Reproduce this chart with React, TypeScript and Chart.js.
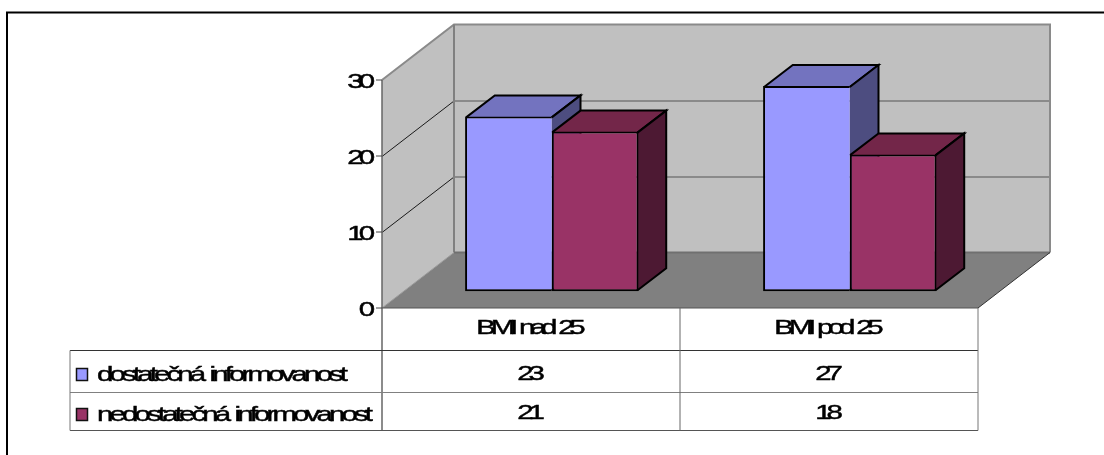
import React, { useEffect, useRef } from "react";
import { Chart, registerables } from "chart.js";

Chart.register(...registerables);

const categories = ["BMI nad 25", "BMI pod 25"];
const seriesNames = ["dostatečná informovanost", "nedostatečná informovanost"];
const sufficient = [23, 27];
const insufficient = [21, 18];
const seriesValues = [sufficient, insufficient];

const frontColors = ["#9999FF", "#993366"];
const topColors = ["#7373BF", "#732649"];
const sideColors = ["#4D4D80", "#4D1933"];

const WIDTH = 1104;
const HEIGHT = 455;

// Oblique projection of the plot box: the walls recede by this offset.
const WALL_DX = 72;
const WALL_DY = -55.5;
// Bars stand partway into the floor and have their own depth.
const BAR_SHIFT_X = 20.8;
const BAR_SHIFT_Y = -16.8;
const BAR_DX = 28.7;
const BAR_DY = -22;

// Data-table rows, in canvas pixels.
const TABLE_LEFT = 70;
const ROW_LINES = [350.5, 392.5, 430.5];
const HEADER_BASELINE = 334;
const VALUE_BASELINES = [379.5, 419];
const NAME_BASELINES = [381, 421];
const SWATCH_TOPS = [368.5, 408.5];

function label(
  ctx: CanvasRenderingContext2D,
  text: string,
  x: number,
  baseline: number,
  align: "left" | "center" | "right",
  spacing: number,
  wordGap = 0
) {
  const stretch = 1.4;
  ctx.save();
  ctx.font = '21px "Liberation Sans"';
  ctx.fillStyle = "#000";
  ctx.strokeStyle = "#000";
  ctx.lineWidth = 0.45;
  ctx.textAlign = "left";
  ctx.textBaseline = "alphabetic";
  (ctx as any).letterSpacing = spacing + "px";
  (ctx as any).wordSpacing = wordGap + "px";
  const w = (ctx.measureText(text).width - spacing) * stretch;
  const left = align === "left" ? x : align === "center" ? x - w / 2 : x - w;
  ctx.translate(left, baseline);
  ctx.scale(stretch, 1);
  ctx.fillText(text, 0, 0);
  ctx.strokeText(text, 0, 0);
  ctx.restore();
}

function poly(
  ctx: CanvasRenderingContext2D,
  pts: number[][],
  fill: string | null,
  stroke: string | null,
  lineWidth = 1
) {
  ctx.beginPath();
  pts.forEach(([x, y], i) => (i ? ctx.lineTo(x, y) : ctx.moveTo(x, y)));
  if (fill) {
    ctx.closePath();
    ctx.fillStyle = fill;
    ctx.fill();
  }
  if (stroke) {
    ctx.strokeStyle = stroke;
    ctx.lineWidth = lineWidth;
    ctx.lineJoin = "miter";
    ctx.stroke();
  }
}

// Walls, floor and gridlines behind the bars.
const boxPlugin = {
  id: "box3d",
  beforeDatasetsDraw(chart: any) {
    const { ctx, chartArea: a, scales } = chart;
    const y = scales.y;
    const { left: l, right: r, top: t, bottom: b } = a;
    const dx = WALL_DX;
    const dy = WALL_DY;
    ctx.save();

    // Outer frame: only the top and left edges fall inside the canvas.
    poly(ctx, [[7, HEIGHT], [7, 12.5], [WIDTH, 12.5]], null, "#000", 2);

    poly(ctx, [[l, t], [l + dx, t + dy], [l + dx, b + dy], [l, b]], "#C0C0C0", null);
    poly(ctx, [[l + dx, t + dy], [r + dx, t + dy], [r + dx, b + dy], [l + dx, b + dy]], "#C0C0C0", null);
    poly(ctx, [[l, b], [r, b], [r + dx, b + dy], [l + dx, b + dy]], "#808080", null);

    y.ticks.forEach((tick: any) => {
      const py = Math.round(y.getPixelForValue(tick.value)) + 0.5;
      if (tick.value > 0 && tick.value < 30) {
        poly(ctx, [[l, py], [l + dx, py + dy]], null, "#1a1a1a", 1);
        poly(ctx, [[l + dx, py + dy], [r + dx, py + dy]], null, "#555555", 1);
      }
    });

    poly(ctx, [[l, t], [l + dx, t + dy], [r + dx, t + dy], [r + dx, b + dy]], null, "#8a8a8a", 2);
    poly(ctx, [[l + dx, t + dy], [l + dx, b + dy]], null, "#808080", 2);
    poly(ctx, [[l + dx, b + dy], [r + dx, b + dy]], null, "#707070", 2);
    poly(ctx, [[l, b], [l + dx, b + dy]], null, "#9a9a9a", 1);
    poly(ctx, [[r, b], [r + dx, b + dy]], null, "#333333", 1);

    // Value axis with its tick marks and labels.
    poly(ctx, [[l, t], [l, ROW_LINES[2]]], null, "#666666", 1.5);
    y.ticks.forEach((tick: any) => {
      const py = y.getPixelForValue(tick.value);
      poly(ctx, [[l - 6, py], [l, py]], null, "#444444", 1);
      label(ctx, String(tick.value), l - 7, py + 7.5, "right", -3.6);
    });

    ctx.restore();

    // Top and side faces, blue first so the red top sits over the blue side.
    // The library strokes bar borders inside the rectangle, hence the 1px inset.
    ctx.save();
    ctx.translate(BAR_SHIFT_X, BAR_SHIFT_Y);
    [0, 1].forEach((ds) => {
      chart.getDatasetMeta(ds).data.forEach((bar: any) => {
        const p = bar.getProps(["x", "y", "base", "width"], true);
        const x0 = p.x - p.width / 2 + (ds === 0 ? 1 : 0);
        const x1 = p.x + p.width / 2 - (ds === 0 ? 0 : 1);
        const yTop = p.y + 1;
        const yBase = p.base - 1;
        poly(ctx, [[x0, yTop], [x0 + BAR_DX, yTop + BAR_DY], [x1 + BAR_DX, yTop + BAR_DY], [x1, yTop]], topColors[ds], null);
        poly(ctx, [[x0, yTop], [x0 + BAR_DX, yTop + BAR_DY], [x1 + BAR_DX, yTop + BAR_DY], [x1, yTop]], null, "#000", 2);
        poly(ctx, [[x1, yTop], [x1 + BAR_DX, yTop + BAR_DY], [x1 + BAR_DX, yBase + BAR_DY], [x1, yBase]], sideColors[ds], null);
        poly(ctx, [[x1, yTop], [x1 + BAR_DX, yTop + BAR_DY], [x1 + BAR_DX, yBase + BAR_DY], [x1, yBase]], null, "#000", 2);
      });
    });
    // The library draws the front faces under this same shift.
  },
  afterDatasetsDraw(chart: any) {
    chart.ctx.restore();
    const { ctx, chartArea: a, scales } = chart;
    const { left: l, right: r, bottom: b } = a;
    const x = scales.x;
    ctx.save();

    // Data table: rules, header row, values, and the legend keys.
    poly(ctx, [[l, b], [r, b]], null, "#555555", 1);
    poly(ctx, [[TABLE_LEFT, ROW_LINES[0]], [r, ROW_LINES[0]]], null, "#333333", 1);
    poly(ctx, [[TABLE_LEFT, ROW_LINES[1]], [r, ROW_LINES[1]]], null, "#808080", 1);
    poly(ctx, [[TABLE_LEFT, ROW_LINES[2]], [r, ROW_LINES[2]]], null, "#555555", 1);
    poly(ctx, [[TABLE_LEFT, ROW_LINES[0]], [TABLE_LEFT, ROW_LINES[2]]], null, "#777777", 1);
    poly(ctx, [[r, b], [r, ROW_LINES[2]]], null, "#777777", 1);
    poly(ctx, [[(l + r) / 2, b], [(l + r) / 2, ROW_LINES[2]]], null, "#666666", 1);

    categories.forEach((name, i) => {
      const cx = x.getPixelForValue(i);
      label(ctx, name, cx, HEADER_BASELINE, "center", -3.75, 2.2);
      seriesValues.forEach((vals, s) => {
        label(ctx, String(vals[i]), cx, VALUE_BASELINES[s], "center", -3.6);
      });
    });

    seriesNames.forEach((name, s) => {
      ctx.fillStyle = frontColors[s];
      ctx.fillRect(76.5, SWATCH_TOPS[s], 11, 12);
      ctx.strokeStyle = "#111";
      ctx.lineWidth = 1.5;
      ctx.strokeRect(76.5, SWATCH_TOPS[s], 11, 12);
      label(ctx, name, 97, NAME_BASELINES[s], "left", -2.75, 2);
    });

    ctx.restore();
  },
};

export default function App() {
  const ref = useRef<HTMLCanvasElement>(null);

  useEffect(() => {
    const chart = new Chart(ref.current!, {
      type: "bar",
      data: {
        labels: categories,
        datasets: seriesNames.map((name, s) => ({
          label: name,
          data: seriesValues[s],
          backgroundColor: frontColors[s],
          borderColor: "#000",
          // Neighbouring bars share one divider instead of doubling it.
          borderWidth: s === 0 ? { top: 2, left: 2, bottom: 2, right: 0 } : 2,
          borderSkipped: false,
          categoryPercentage: 0.582,
          barPercentage: 1,
          clip: false,
        })),
      },
      options: {
        responsive: false,
        animation: false,
        layout: { padding: { left: 0, top: 80, right: WIDTH - 978, bottom: 0 } },
        plugins: { legend: { display: false }, tooltip: { enabled: false } },
        scales: {
          x: {
            grid: { display: false },
            border: { display: false },
            ticks: { display: false },
            afterFit: (s: any) => {
              s.height = HEIGHT - 308;
            },
          },
          y: {
            min: 0,
            max: 30,
            grid: { display: false },
            border: { display: false },
            ticks: { display: false, stepSize: 10 },
            afterFit: (s: any) => {
              s.width = 382;
            },
          },
        },
      },
      plugins: [boxPlugin],
    } as any);
    return () => chart.destroy();
  }, []);

  return (
    <div style={{ position: "absolute", left: 0, top: 0, width: WIDTH, height: HEIGHT, background: "#fff" }}>
      <canvas ref={ref} width={WIDTH} height={HEIGHT} style={{ display: "block" }} />
    </div>
  );
}
